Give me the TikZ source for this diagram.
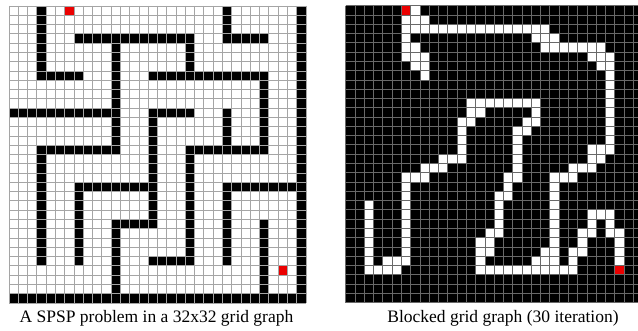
\documentclass[tikz,border=0pt]{standalone}
\usepackage{fontspec}
\setmainfont{Liberation Serif}
\definecolor{redcell}{RGB}{235,0,0}
\definecolor{lgrid}{RGB}{165,165,165}
\definecolor{rgrid}{RGB}{105,105,105}
\tikzset{
  captext/.style={font=\fontsize{17.5}{20}\selectfont, inner sep=0pt, anchor=base},
  lline/.style={draw=lgrid, line width=0.8pt},
  rline/.style={draw=rgrid, line width=0.8pt},
}
\begin{document}
\begin{tikzpicture}[x=1pt,y=-1pt]
\useasboundingbox (0,0) rectangle (638,331);
\fill[white] (0,0) rectangle (638,331);
\clip (0,0) rectangle (638,331);
% ---------- left grid ----------
\begin{scope}[xshift=9pt,yshift=-6pt,x=9.28pt,y=-9.28pt]
  \foreach \a/\b/\c/\d in {3/0/3/7, 3/7/7/7, 7/3/19/3, 23/3/27/3, 23/0/23/3,
      19/3/19/7, 11/3/11/15, 15/7/27/7, 27/7/27/15, 0/11/11/11, 15/11/19/11,
      15/11/15/23, 23/11/23/15, 3/15/11/15, 19/15/27/15, 3/15/3/27,
      19/15/19/27, 7/19/15/19, 7/19/7/27, 23/19/31/19, 23/19/23/27,
      11/23/15/23, 11/23/11/30, 15/27/19/27, 27/23/27/30, 31/0/31/31, 0/31/31/31}
    {\fill[black] (\a,\b) rectangle (\c+1,\d+1);}
  \fill[redcell] (6,0) rectangle (7,1);
  \fill[redcell] (29,28) rectangle (30,29);
  \foreach \i in {0,...,32} {\draw[lline] (\i,0) -- (\i,32) (0,\i) -- (32,\i);}
\end{scope}
% ---------- right grid ----------
\begin{scope}[xshift=345.7pt,yshift=-5.7pt,x=9.28pt,y=-9.28pt]
  \fill[black] (0,0) rectangle (32,32);
  \foreach \a/\b/\c/\d in {7/0/7/0, 6/1/8/1, 6/2/21/2, 6/3/6/3, 20/3/22/3,
      6/4/7/4, 21/4/27/4, 6/5/8/5, 26/5/28/5, 7/6/8/6, 27/6/28/6, 8/7/8/7,
      28/7/28/15, 13/10/20/10, 13/11/14/11, 20/11/20/11, 12/12/13/12,
      19/12/20/12, 12/13/12/15, 18/13/19/13, 18/13/18/18, 26/15/28/15,
      10/16/12/16, 26/16/27/16, 8/17/10/17, 24/17/26/17, 6/18/8/18,
      17/18/18/18, 22/18/24/18, 6/18/6/27, 17/19/17/19, 16/20/17/20,
      16/20/16/24, 22/18/22/27, 26/22/28/22, 26/23/26/23, 28/23/28/23,
      15/24/16/24, 25/24/26/24, 28/24/29/24, 14/25/15/25, 25/25/25/25,
      29/25/29/27, 14/26/15/26, 21/26/22/26, 24/26/25/26, 4/27/6/27,
      14/27/14/27, 20/27/22/27, 24/27/24/27, 2/28/5/28, 14/28/24/28, 2/21/2/28}
    {\fill[white] (\a,\b) rectangle (\c+1,\d+1);}
  \fill[redcell] (6,0) rectangle (7,1);
  \fill[redcell] (29,28) rectangle (30,29);
  \foreach \i in {0,...,32} {\draw[rline] (\i,0) -- (\i,32) (0,\i) -- (32,\i);}
\end{scope}
% ---------- captions ----------
\node[captext] (capL) at (156.5,323) {A SPSP problem in a 32x32 grid graph};
\node[captext] (capR) at (503,323) {Blocked grid graph (30 iteration)};
\end{tikzpicture}
\end{document}
